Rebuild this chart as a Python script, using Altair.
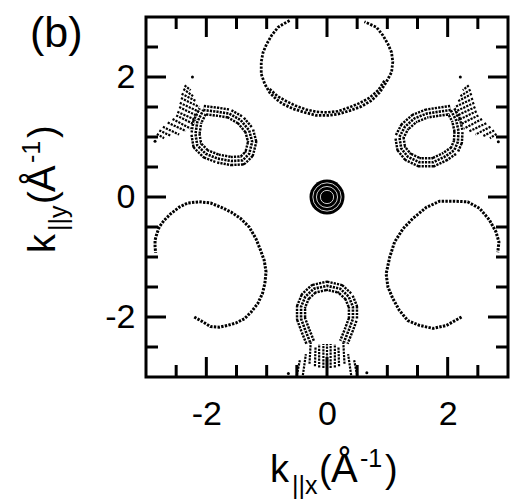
import altair as alt
import pandas as pd

# ---------------- data (all in 1/Angstrom) ----------------
# big electron pocket at the top (open contour, cut by the frame)
TOP_X = [-0.62, -0.73, -0.81, -0.92, -1.00, -1.06, -1.09, -1.09, -1.03, -0.95, -0.84, -0.73, -0.56, -0.37, -0.18,
         0.02, 0.18, 0.38, 0.57, 0.74, 0.87, 0.98, 1.07, 1.09, 1.07, 1.01, 0.93, 0.82, 0.71, 0.62]
TOP_Y = [2.94, 2.88, 2.83, 2.69, 2.55, 2.41, 2.25, 2.05, 1.88, 1.74, 1.63, 1.55, 1.47, 1.41, 1.36,
         1.36, 1.38, 1.44, 1.51, 1.61, 1.74, 1.91, 2.08, 2.25, 2.41, 2.55, 2.69, 2.83, 2.88, 2.92]
TOP_IN_X = [-0.95, -0.82, -0.68, -0.52, -0.35, -0.18, 0.00, 0.18, 0.36, 0.53, 0.70, 0.85, 0.96]
TOP_IN_Y = [1.80, 1.68, 1.60, 1.52, 1.46, 1.42, 1.41, 1.43, 1.49, 1.56, 1.65, 1.78, 1.95]

# lower-left pocket
LL_X = [-2.20, -2.06, -1.93, -1.79, -1.65, -1.51, -1.37, -1.26, -1.15, -1.07, -1.03, -1.01, -1.04, -1.10, -1.18,
        -1.29, -1.43, -1.59, -1.76, -1.93, -2.12, -2.31, -2.45, -2.59, -2.70, -2.78, -2.82, -2.85, -2.85, -2.84]
LL_Y = [-2.00, -2.08, -2.16, -2.17, -2.14, -2.10, -2.03, -1.92, -1.78, -1.61, -1.44, -1.25, -1.06, -0.89, -0.69,
        -0.50, -0.36, -0.25, -0.17, -0.10, -0.08, -0.10, -0.17, -0.28, -0.39, -0.50, -0.61, -0.72, -0.83, -0.93]

# lower-right pocket
LR_X = [2.23, 1.98, 1.76, 1.53, 1.34, 1.20, 1.09, 1.01, 0.98, 1.04, 1.12, 1.26, 1.42, 1.65, 1.87,
        2.10, 2.33, 2.53, 2.69, 2.80, 2.85, 2.83]
LR_Y = [-2.00, -2.14, -2.19, -2.14, -2.06, -1.89, -1.69, -1.50, -1.28, -1.00, -0.75, -0.53, -0.36, -0.17, -0.07,
        -0.07, -0.08, -0.19, -0.38, -0.58, -0.75, -0.92]

# upper-left hole loop (closed)
UL_X = [-2.05, -1.81, -1.62, -1.43, -1.29, -1.24, -1.29, -1.40, -1.59, -1.81, -2.01, -2.15, -2.18, -2.15, -2.05]
UL_Y = [1.45, 1.42, 1.39, 1.28, 1.11, 0.92, 0.72, 0.61, 0.60, 0.64, 0.72, 0.86, 1.05, 1.25, 1.45]
# upper-right hole loop (closed)
UR_X = [2.05, 1.84, 1.65, 1.45, 1.29, 1.20, 1.23, 1.34, 1.53, 1.76, 1.95, 2.11, 2.17, 2.18, 2.14, 2.05]
UR_Y = [1.45, 1.42, 1.39, 1.31, 1.17, 1.00, 0.81, 0.67, 0.58, 0.58, 0.67, 0.78, 0.92, 1.10, 1.28, 1.45]
# bottom hole loop (open at the bottom)
BK_X = [-0.28, -0.36, -0.43, -0.43, -0.36, -0.22, 0.00, 0.22, 0.36, 0.43, 0.43, 0.36, 0.28]
BK_Y = [-2.42, -2.22, -2.03, -1.83, -1.66, -1.53, -1.48, -1.53, -1.66, -1.83, -2.03, -2.22, -2.42]

# hatched tails (short strokes: start / end)
UL_T_X1 = [-2.36, -2.38, -2.41, -2.42, -2.44, -2.45, -2.48, -2.50, -2.56, -2.64, -2.72, -2.78, -2.82]
UL_T_Y1 = [1.86, 1.80, 1.72, 1.65, 1.57, 1.50, 1.42, 1.36, 1.30, 1.24, 1.17, 1.11, 1.05]
UL_T_X2 = [-2.26, -2.22, -2.17, -2.12, -2.12, -2.15, -2.17, -2.20, -2.26, -2.34, -2.45, -2.59, -2.70]
UL_T_Y2 = [1.78, 1.68, 1.60, 1.50, 1.42, 1.35, 1.28, 1.21, 1.14, 1.10, 1.04, 1.02, 0.98]
UR_T_X1 = [2.35, 2.38, 2.40, 2.42, 2.44, 2.46, 2.48, 2.51, 2.57, 2.64, 2.71, 2.77, 2.81]
UR_T_Y1 = [1.86, 1.79, 1.72, 1.64, 1.57, 1.50, 1.43, 1.36, 1.30, 1.23, 1.17, 1.11, 1.05]
UR_T_X2 = [2.25, 2.21, 2.16, 2.12, 2.12, 2.14, 2.17, 2.21, 2.27, 2.35, 2.46, 2.58, 2.70]
UR_T_Y2 = [1.78, 1.68, 1.59, 1.50, 1.42, 1.35, 1.28, 1.21, 1.14, 1.09, 1.04, 1.01, 0.98]
BT_X1 = [-0.50, -0.40, -0.29, -0.20, -0.13, -0.06, 0.00, 0.06, 0.13, 0.20, 0.29, 0.40, 0.50]
BT_Y1 = [-2.97, -2.97, -2.78, -2.82, -2.84, -2.85, -2.86, -2.85, -2.84, -2.82, -2.78, -2.97, -2.97]
BT_X2 = [-0.45, -0.35, -0.27, -0.19, -0.13, -0.06, 0.00, 0.06, 0.13, 0.19, 0.27, 0.35, 0.45]
BT_Y2 = [-2.72, -2.62, -2.42, -2.50, -2.45, -2.45, -2.45, -2.45, -2.45, -2.50, -2.42, -2.62, -2.72]

# isolated dots
DOT_X = [-2.23, -2.85, 2.21, 2.84, -0.64, 0.66]
DOT_Y = [2.00, 0.93, 2.00, 0.92, -2.94, -2.93]

# central pocket: concentric contours (radii)
POCKET_R = [0.29, 0.235, 0.175, 0.11, 0.05]

MAJOR = [-2, 0, 2]
MINOR = [-2.5, -1.5, -1, -0.5, 0.5, 1, 1.5, 2.5]

# ---------------- styling ----------------
FONT = "Liberation Sans"
W, H = 362, 360
XS = alt.Scale(domain=[-3, 3], nice=False, zero=False)
YS = alt.Scale(domain=[-3, 3], nice=False, zero=False)
LBL = "replace(datum.label, '\u2212', '-')"
XAX = alt.Axis(values=MAJOR, title=None, ticks=False, domain=False, grid=False, labelFontSize=34,
               labelFont=FONT, labelColor="black", labelPadding=20, labelExpr=LBL, labelFlush=False)
YAX = alt.Axis(values=MAJOR, title=None, ticks=False, domain=False, grid=False, labelFontSize=34,
               labelFont=FONT, labelColor="black", labelPadding=11, labelExpr=LBL, labelFlush=False)


def xenc(f="x"):
    return alt.X(f"{f}:Q", scale=XS, axis=XAX)


def yenc(f="y"):
    return alt.Y(f"{f}:Q", scale=YS, axis=YAX)


def curve(xv, yv, width, dash, color="black"):
    df = pd.DataFrame({"x": xv, "y": yv, "i": list(range(len(xv)))})
    kw = dict(color=color, strokeWidth=width, strokeCap="butt", strokeJoin="round", clip=True)
    if dash:
        kw["strokeDash"] = dash
    return alt.Chart(df).mark_line(**kw).encode(x=xenc(), y=yenc(), order="i:Q")


def band(xv, yv):
    # three parallel dotted rows along the contour
    return [curve(xv, yv, 10.5, [2.2, 1.1]),
            curve(xv, yv, 5.6, None, "white"),
            curve(xv, yv, 2.6, [2.2, 1.1])]


def strokes(x1, y1, x2, y2, width=2.2):
    df = pd.DataFrame({"x": x1, "y": y1, "x2": x2, "y2": y2})
    return alt.Chart(df).mark_rule(color="black", strokeWidth=width, strokeDash=[2.2, 1.1],
                                   clip=True).encode(
        x=xenc(), y=yenc(), x2="x2:Q", y2="y2:Q")


layers = []
layers.append(curve(TOP_X, TOP_Y, 2.8, [2.4, 1.4]))
layers.append(curve(TOP_IN_X, TOP_IN_Y, 2.6, [2.4, 1.4]))
layers.append(curve(LL_X, LL_Y, 3.0, [2.4, 1.3]))
layers.append(curve(LR_X, LR_Y, 3.0, [2.4, 1.3]))
layers += band(UL_X, UL_Y)
layers += band(UR_X, UR_Y)
layers += band(BK_X, BK_Y)
layers.append(strokes(UL_T_X1, UL_T_Y1, UL_T_X2, UL_T_Y2))
layers.append(strokes(UR_T_X1, UR_T_Y1, UR_T_X2, UR_T_Y2))
layers.append(strokes(BT_X1, BT_Y1, BT_X2, BT_Y2))
layers.append(alt.Chart(pd.DataFrame({"x": DOT_X, "y": DOT_Y})).mark_circle(
    color="black", size=9, opacity=1, clip=True).encode(x=xenc(), y=yenc()))

# central pocket
ppu = W / 6.0
pk = pd.DataFrame({"x": [0.0] * len(POCKET_R), "y": [0.0] * len(POCKET_R),
                   "s": [(2 * r * ppu) ** 2 for r in POCKET_R]})
layers.append(alt.Chart(pk.iloc[:1]).mark_point(shape="circle", filled=True, fill="black",
                                                 strokeWidth=0, opacity=1).encode(
    x=xenc(), y=yenc(), size=alt.Size("s:Q", scale=None, legend=None)))
layers.append(alt.Chart(pk.iloc[1:4]).mark_point(shape="circle", filled=False, stroke="white",
                                                  strokeWidth=0.8, opacity=1).encode(
    x=xenc(), y=yenc(), size=alt.Size("s:Q", scale=None, legend=None)))

# inward ticks on all four sides
maj_df = pd.DataFrame({"v": MAJOR})
min_df = pd.DataFrame({"v": MINOR})
for df, ln in ((maj_df, 20), (min_df, 12)):
    layers.append(alt.Chart(df).mark_rule(color="black", strokeWidth=3).encode(
        x=xenc("v"), y=alt.value(0), y2=alt.value(ln)))
    layers.append(alt.Chart(df).mark_rule(color="black", strokeWidth=3).encode(
        x=xenc("v"), y=alt.value(H), y2=alt.value(H - ln)))
    layers.append(alt.Chart(df).mark_rule(color="black", strokeWidth=3).encode(
        y=yenc("v"), x=alt.value(0), x2=alt.value(ln)))
    layers.append(alt.Chart(df).mark_rule(color="black", strokeWidth=3).encode(
        y=yenc("v"), x=alt.value(W), x2=alt.value(W - ln)))


def txt(t, x, y, size, angle=0):
    return alt.Chart(pd.DataFrame({"t": [t]})).mark_text(
        align="left", baseline="alphabetic", font=FONT, fontSize=size, color="black",
        angle=angle).encode(text="t:N", x=alt.value(x), y=alt.value(y))


# panel label
layers.append(txt("(b)", -116, 30, 43))
# x title  k_{||x}(Å^{-1})
layers += [txt("k", 124, 465, 38), txt("||x", 146, 477, 25), txt("(", 173, 465, 38),
           txt("Å", 185, 465, 40), txt("-1", 214, 450, 25), txt(")", 239, 465, 38)]
# y title (rotated)
layers += [txt("k", -91, 236, 38, 270), txt("||y", -79, 214, 25, 270), txt("(", -91, 187, 38, 270),
           txt("Å", -91, 175, 40, 270), txt("-1", -106, 146, 25, 270), txt(")", -91, 121, 38, 270)]

chart = alt.layer(*layers).properties(
    width=W, height=H,
    autosize=alt.AutoSizeParams(type="none"),
    padding={"left": 146, "top": 17, "right": 2, "bottom": 125},
    background="white",
).configure_view(stroke="black", strokeWidth=3)

chart.save("out.html", embed_options={"renderer": "svg", "actions": False})
